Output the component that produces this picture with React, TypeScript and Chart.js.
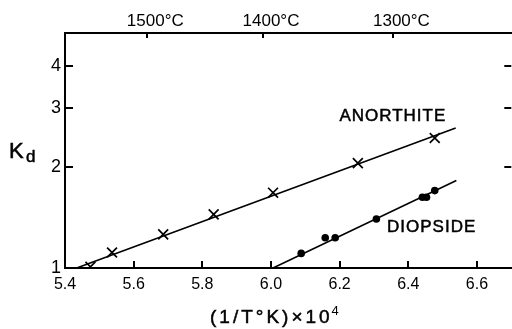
import React, { useEffect, useRef } from "react";
import { Chart, registerables } from "chart.js";

Chart.register(...registerables);

// x: (1/T K) x 10^4, y: Kd (log)
const xTickValues = [5.4, 5.6, 5.8, 6.0, 6.2, 6.4, 6.6];
const yTickValues = [1, 2, 3, 4];
const topTempsC = [1500, 1400, 1300];

const anorthiteX = [5.474, 5.537, 5.686, 5.833, 6.006, 6.253, 6.477];
const anorthiteK = [1.008, 1.112, 1.259, 1.444, 1.675, 2.051, 2.436];
const anorthiteFitX = [5.434, 6.538];
const anorthiteFitK = [1.0, 2.61];

const diopsideX = [6.088, 6.158, 6.187, 6.307, 6.441, 6.453, 6.477];
const diopsideK = [1.105, 1.23, 1.23, 1.399, 1.623, 1.623, 1.699];
const diopsideFitX = [6.006, 6.54];
const diopsideFitK = [1.0, 1.82];

const seriesLabels = ["ANORTHITE", "DIOPSIDE"];
const seriesLabelX = [6.355, 6.468];
const seriesLabelK = [2.82, 1.324];

const FONT = '"Liberation Sans", Arial, sans-serif';

const toXY = (xs: number[], ys: number[]) => xs.map((x, i) => ({ x, y: ys[i] }));

const inkPlugin = {
  id: "ink",
  afterDraw(chart: any) {
    const ctx = chart.ctx;
    const { left, right, top, bottom } = chart.chartArea;
    const xs = chart.scales.x;
    const ys = chart.scales.y;
    const xt = chart.scales.xTop;
    ctx.save();
    ctx.strokeStyle = "#000";
    ctx.lineWidth = 2;
    ctx.beginPath();
    xTickValues.forEach((v) => {
      if (v === xs.min) return;
      const px = Math.round(xs.getPixelForValue(v));
      ctx.moveTo(px, bottom);
      ctx.lineTo(px, bottom - 7);
    });
    yTickValues.forEach((v) => {
      if (v === ys.min) return;
      const py = Math.round(ys.getPixelForValue(v));
      ctx.moveTo(left, py);
      ctx.lineTo(left + 8, py);
      ctx.moveTo(right, py);
      ctx.lineTo(right - 7, py);
    });
    topTempsC.forEach((t) => {
      const px = Math.round(xt.getPixelForValue(1e4 / (t + 273.15)));
      ctx.moveTo(px, top);
      ctx.lineTo(px, top + 5);
    });
    ctx.stroke();

    ctx.fillStyle = "#000";
    ctx.strokeStyle = "#000";
    ctx.lineWidth = 0.5;
    ctx.textAlign = "center";
    ctx.textBaseline = "middle";
    ctx.font = `17px ${FONT}`;
    (ctx as any).letterSpacing = "1px";
    seriesLabels.forEach((s, i) => {
      const px = xs.getPixelForValue(seriesLabelX[i]);
      const py = ys.getPixelForValue(seriesLabelK[i]);
      ctx.fillText(s, px, py);
      ctx.strokeText(s, px, py);
    });

    // x title
    (ctx as any).letterSpacing = "3px";
    ctx.textAlign = "left";
    ctx.textBaseline = "alphabetic";
    ctx.font = `19px ${FONT}`;
    const main = "(1/T°K)×10";
    const w = ctx.measureText(main).width;
    const x0 = 210;
    ctx.fillText(main, x0, 323);
    ctx.strokeText(main, x0, 323);
    (ctx as any).letterSpacing = "0px";
    ctx.font = `13px ${FONT}`;
    ctx.fillText("4", x0 + w - 1, 315);

    // Kd
    ctx.font = `22px ${FONT}`;
    ctx.fillText("K", 9, 158);
    ctx.strokeText("K", 9, 158);
    ctx.font = `17px ${FONT}`;
    ctx.fillText("d", 26, 162);
    ctx.strokeText("d", 26, 162);
    ctx.restore();
  },
};

export default function App() {
  const ref = useRef<HTMLCanvasElement | null>(null);
  useEffect(() => {
    if (!ref.current) return;
    const black = "#000";
    const chart = new Chart(ref.current, {
      type: "scatter",
      data: {
        datasets: [
          {
            data: toXY(anorthiteFitX, anorthiteFitK),
            showLine: true,
            pointRadius: 0,
            borderColor: black,
            borderWidth: 1.6,
          },
          {
            data: toXY(diopsideFitX, diopsideFitK),
            showLine: true,
            pointRadius: 0,
            borderColor: black,
            borderWidth: 1.6,
          },
          {
            data: toXY(anorthiteX, anorthiteK),
            pointStyle: "crossRot",
            pointRadius: 7,
            borderColor: black,
            borderWidth: 1.7,
            backgroundColor: black,
          },
          {
            data: toXY(diopsideX, diopsideK),
            pointStyle: "circle",
            pointRadius: 3.8,
            borderColor: black,
            borderWidth: 0,
            backgroundColor: black,
          },
        ],
      } as any,
      options: {
        animation: false,
        responsive: false,
        maintainAspectRatio: false,
        layout: { padding: { left: 0, right: 6, top: 0, bottom: 0 } },
        plugins: { legend: { display: false }, tooltip: { enabled: false } },
        scales: {
          x: {
            type: "linear",
            position: "bottom",
            min: 5.4,
            max: 6.7,
            afterBuildTicks: (s: any) => {
              s.ticks = xTickValues.map((v) => ({ value: v }));
            },
            afterFit: (s: any) => {
              s.height = 61;
            },
            ticks: {
              autoSkip: false,
              maxRotation: 0,
              padding: 7,
              color: black,
              font: { family: FONT, size: 16 },
              callback: (v: any) => Number(v).toFixed(1),
            },
            grid: { drawOnChartArea: false, drawTicks: false },
            border: { display: true, color: black, width: 2 },
          },
          xTop: {
            type: "linear",
            position: "top",
            min: 5.4,
            max: 6.7,
            afterBuildTicks: (s: any) => {
              s.ticks = topTempsC.map((t) => ({ value: 1e4 / (t + 273.15) }));
            },
            afterFit: (s: any) => {
              s.height = 33;
            },
            ticks: {
              autoSkip: false,
              maxRotation: 0,
              padding: 1,
              labelOffset: 8,
              color: black,
              font: { family: FONT, size: 17 },
              callback: (_v: any, i: number) => `${topTempsC[i]}°C`,
            },
            grid: { drawOnChartArea: false, drawTicks: false },
            border: { display: true, color: black, width: 2 },
          },
          y: {
            type: "logarithmic",
            position: "left",
            min: 1,
            max: 5,
            afterBuildTicks: (s: any) => {
              s.ticks = yTickValues.map((v) => ({ value: v }));
            },
            afterFit: (s: any) => {
              s.width = 65;
            },
            ticks: {
              autoSkip: false,
              padding: 4,
              color: black,
              font: { family: FONT, size: 18 },
              callback: (v: any) => String(v),
            },
            grid: { drawOnChartArea: false, drawTicks: false },
            border: { display: true, color: black, width: 2 },
          },
        },
      } as any,
      plugins: [inkPlugin],
    });
    return () => chart.destroy();
  }, []);

  return (
    <div
      style={{
        position: "fixed",
        left: 0,
        top: 0,
        width: 520,
        height: 329,
        background: "#fff",
        overflow: "hidden",
      }}
    >
      <canvas ref={ref} width={520} height={329} style={{ display: "block" }} />
    </div>
  );
}
